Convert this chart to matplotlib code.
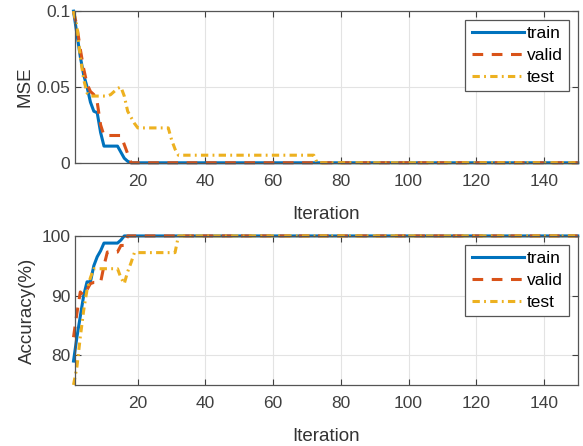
"""
Training curves: MSE and accuracy per iteration for train / valid / test.
"""

import numpy as np
import matplotlib.pyplot as plt

# ─── Data ────────────────────────────────────────────────────────────────────
N_ITER = 150

mse_train_head = [0.1, 0.085, 0.07, 0.058, 0.05, 0.04, 0.034, 0.033, 0.02, 0.011,
                  0.011, 0.011, 0.011, 0.011, 0.007, 0.003, 0.001, 0.0]
mse_valid_head = [0.1, 0.09, 0.075, 0.062, 0.052, 0.047, 0.045, 0.04, 0.025, 0.018,
                  0.018, 0.018, 0.018, 0.018, 0.018, 0.012, 0.006, 0.0]
mse_test_head = [0.1, 0.09, 0.07, 0.055, 0.046, 0.044, 0.044, 0.044, 0.044, 0.044,
                 0.044, 0.045, 0.047, 0.049, 0.05, 0.044, 0.034, 0.03, 0.026, 0.023,
                 0.023, 0.023, 0.023, 0.023, 0.023, 0.023, 0.023, 0.023, 0.023, 0.015,
                 0.009, 0.005]
mse_test_tail_level = 0.005   # held until iteration 72
mse_test_tail_end = 72

acc_train_head = [79, 83, 86.5, 90, 92.3, 92.3, 95, 96.5, 97.5, 98.8,
                  98.8, 98.8, 98.8, 98.8, 99.3, 100]
acc_valid_head = [83, 87, 90.6, 90, 91, 92, 92.2, 92.2, 92.2, 95,
                  97.3, 97.3, 97.3, 97.3, 98.4, 98.4, 100]
acc_test_head = [75, 78, 83, 87.5, 91, 93, 94.5, 94.5, 94.5, 94.5,
                 94.5, 94.5, 94.5, 94.5, 93, 92, 94, 95.5, 97.2, 97.2,
                 97.2, 97.2, 97.2, 97.2, 97.2, 97.2, 97.2, 97.2, 97.2, 97.2,
                 97.2, 100]

LABELS = ["train", "valid", "test"]
COLORS = ["#0072BD", "#D95319", "#EDB120"]
DASHES = [None, (3.5, 2.8), (2.4, 1.4, 0.6, 1.4)]


def pad(head, fill, n=N_ITER):
    return np.array(list(head) + [fill] * (n - len(head)))


iters = np.arange(1, N_ITER + 1)

mse_test = list(mse_test_head) + [mse_test_tail_level] * (mse_test_tail_end - len(mse_test_head))
mse = [pad(mse_train_head, 0.0), pad(mse_valid_head, 0.0), pad(mse_test, 0.0)]
acc = [pad(acc_train_head, 100.0), pad(acc_valid_head, 100.0), pad(acc_test_head, 100.0)]

# ─── Style ───────────────────────────────────────────────────────────────────
plt.rcParams["font.family"] = ["Liberation Sans", "DejaVu Sans"]
TICK_GRAY = "#404040"


def draw_lines(ax, series):
    for y, lab, c, d in zip(series, LABELS, COLORS, DASHES):
        line, = ax.plot(iters, y, color=c, linewidth=2.2, label=lab, clip_on=False)
        if d is not None:
            line.set_dashes(d)


def style_axes(ax):
    ax.grid(True, color="#e3e3e3", linewidth=0.8)
    ax.set_axisbelow(True)
    ax.tick_params(direction="in", top=True, right=True, labelsize=12.5,
                   colors=TICK_GRAY, length=4, width=0.8)
    ax.tick_params(axis="x", pad=8)
    for sp in ax.spines.values():
        sp.set_color("#555555")
        sp.set_linewidth(0.9)
    ax.set_xlim(1.5, 150)
    ax.set_xticks(np.arange(20, 141, 20))
    ax.set_xlabel("Iteration", fontsize=13.5, color="#333333", labelpad=12)
    leg = ax.legend(loc="upper right", fontsize=12.5, handlelength=3.0,
                    handletextpad=0.2, borderpad=0.35, labelspacing=0.4,
                    fancybox=False, framealpha=1, edgecolor="#555555",
                    borderaxespad=0.5)
    leg.get_frame().set_linewidth(0.9)


# ─── Figure ──────────────────────────────────────────────────────────────────
fig = plt.figure(figsize=(5.83, 4.46), dpi=100)
ax1 = fig.add_axes([0.129, 0.635, 0.862, 0.340])
ax2 = fig.add_axes([0.129, 0.137, 0.862, 0.334])

draw_lines(ax1, mse)
ax1.set_ylim(0, 0.1)
ax1.set_yticks([0, 0.05, 0.1])
ax1.set_yticklabels(["0", "0.05", "0.1"])
ax1.set_ylabel("MSE", fontsize=13.5, color="#333333", labelpad=2)
style_axes(ax1)

draw_lines(ax2, acc)
ax2.set_ylim(75, 100)
ax2.set_yticks([80, 90, 100])
ax2.set_ylabel("Accuracy(%)", fontsize=13.5, color="#333333", labelpad=4)
style_axes(ax2)

fig.savefig("out.png", dpi=100)
